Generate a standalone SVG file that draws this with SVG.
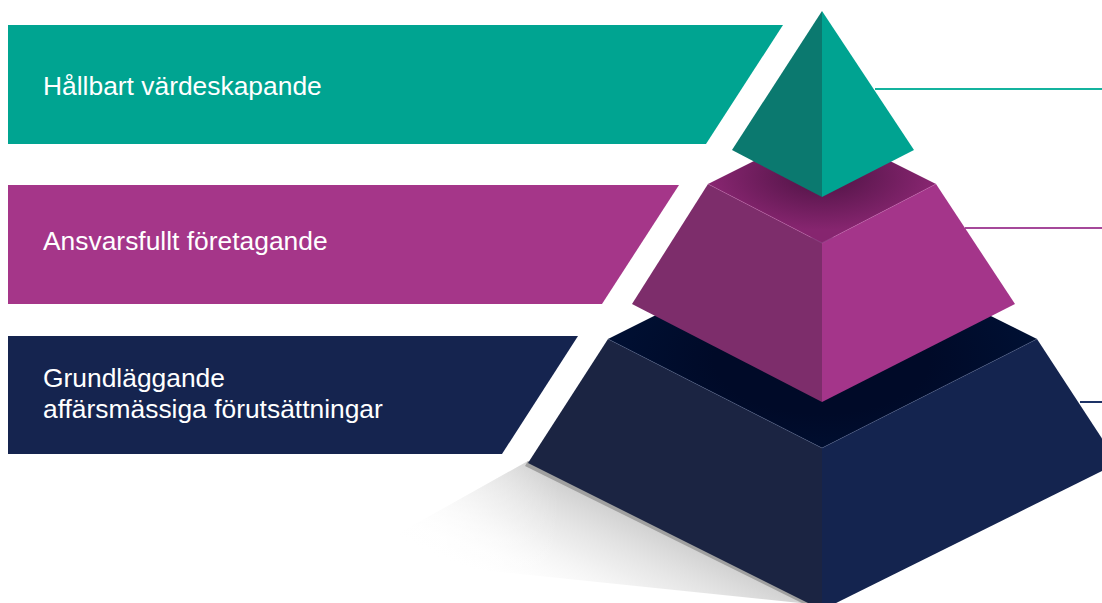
<svg xmlns="http://www.w3.org/2000/svg" width="1102" height="603" viewBox="0 0 1102 603">
<defs>
<style>
.lbl{font-family:"Liberation Sans",Arial,sans-serif;font-size:26.4px;fill:#ffffff}
.edge{fill:none;stroke-width:0.8;stroke-opacity:0.6}
</style>
<linearGradient id="shadow" gradientUnits="userSpaceOnUse" x1="600" y1="497" x2="545" y2="610">
<stop offset="0" stop-color="#bdbdbd" stop-opacity="0.75"/>
<stop offset="0.45" stop-color="#d8d8d8" stop-opacity="0.45"/>
<stop offset="1" stop-color="#ffffff" stop-opacity="0"/>
</linearGradient>
<linearGradient id="fadeL" gradientUnits="userSpaceOnUse" x1="560" y1="0" x2="357" y2="0">
<stop offset="0" stop-color="#ffffff" stop-opacity="0"/>
<stop offset="1" stop-color="#ffffff" stop-opacity="0.9"/>
</linearGradient>
<radialGradient id="magTop" gradientUnits="userSpaceOnUse" cx="822" cy="175" r="110" gradientTransform="translate(822 175) scale(1 0.5) translate(-822 -175)">
<stop offset="0.3" stop-color="#5e1850"/>
<stop offset="1" stop-color="#86256f"/>
</radialGradient>
<radialGradient id="navTop" gradientUnits="userSpaceOnUse" cx="822" cy="360" r="215" gradientTransform="translate(822 360) scale(1 0.5) translate(-822 -360)">
<stop offset="0.5" stop-color="#000a28"/>
<stop offset="1" stop-color="#001033"/>
</radialGradient>
</defs>

<g id="banner-top">
<polygon points="8,25 783,25 706,144 8,144" fill="#00a491"/>
<text class="lbl" x="43" y="95">Hållbart värdeskapande</text>
</g>
<g id="banner-mid">
<polygon points="8,185 679,185 602,304 8,304" fill="#a53689"/>
<text class="lbl" x="43" y="250">Ansvarsfullt företagande</text>
</g>
<g id="banner-base">
<polygon points="8,336 578,336 502,454 8,454" fill="#15244f"/>
<text class="lbl" x="43" y="387">Grundläggande</text>
<text class="lbl" x="43" y="418">affärsmässiga förutsättningar</text>
</g>

<g id="connectors">
<line x1="875" y1="89" x2="1102" y2="89" stroke="#14b39e" stroke-width="2"/>
<line x1="965" y1="228" x2="1102" y2="228" stroke="#a5489a" stroke-width="2"/>
<line x1="1080" y1="402" x2="1102" y2="402" stroke="#1d3366" stroke-width="2"/>
</g>

<g id="shadow-base">
<polygon points="528,461 357,557 800,603 822,608" fill="url(#shadow)"/>
<polygon points="528,461 357,557 800,603 822,608" fill="url(#fadeL)"/>
<polygon points="528,461 822,608 812,608 525,466" fill="#a0a0a0"/>
</g>

<g id="tier-base">
<polygon points="608,339 822,232 1037,339 822,448" fill="url(#navTop)"/>
<polygon points="608,339 822,448 822,610 528,463" fill="#1b2442"/>
<polygon points="822,448 1037,339 1118,463 822,610" fill="#14244f"/>
<polyline class="edge" points="608,339 822,448 1037,339" stroke="#4a5a85"/>
</g>

<g id="tier-mid">
<polygon points="708,184 822,127 936,184 822,243" fill="url(#magTop)"/>
<polygon points="708,184 822,243 822,402 632,304" fill="#7d2d6b"/>
<polygon points="822,243 936,184 1015,304 822,402" fill="#a4358a"/>
<polyline class="edge" points="708,184 822,243 936,184" stroke="#c060a8"/>
</g>

<g id="tier-top">
<polygon points="822,11 732,150 822,197" fill="#0b796f"/>
<polygon points="822,11 914,150 822,197" fill="#00a391"/>
</g>
</svg>
